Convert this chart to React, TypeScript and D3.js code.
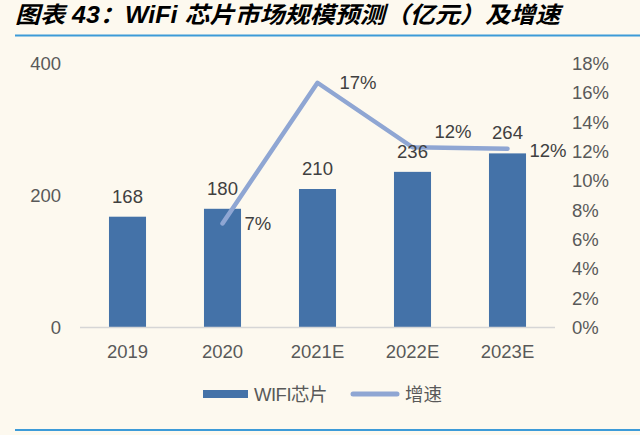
import React, { useEffect, useRef } from 'react';
import * as d3 from 'd3';

// chart data
const years = ['2019', '2020', '2021E', '2022E', '2023E'];
const marketSize = [168, 180, 210, 236, 264];
const growthYears = ['2020', '2021E', '2022E', '2023E'];
const growthRate = [0.071, 0.167, 0.123, 0.122];
const leftTicks = [0, 200, 400];
const rightTicks = [0, 0.02, 0.04, 0.06, 0.08, 0.1, 0.12, 0.14, 0.16, 0.18];

const W = 640;
const H = 435;
const plot = { left: 80, right: 555, top: 63.7, bottom: 327.5 };

const BAR = '#4472a8';
const LINE = '#8fa6d3';
const AXIS_TEXT = '#595959';
const LABEL_TEXT = '#404040';
const FONT = '"Liberation Sans", Arial, sans-serif';
const CJK = '"Noto Sans CJK SC", sans-serif';

const App: React.FC = () => {
    const svgRef = useRef<SVGSVGElement>(null);

    useEffect(() => {
        if (!svgRef.current) return;
        const svg = d3.select(svgRef.current);
        svg.selectAll('*').remove();

        svg.append('rect').attr('width', W).attr('height', H).attr('fill', '#fdf9ef');

        // title + rules
        svg.append('text')
            .attr('x', 15)
            .attr('y', 23)
            .attr('font-family', `"Liberation Sans", ${CJK}`)
            .attr('font-size', 23)
            .attr('font-weight', 'bold')
            .attr('font-style', 'italic')
            .attr('fill', '#000')
            .attr('textLength', 545)
            .attr('lengthAdjust', 'spacingAndGlyphs')
            .text('图表 43：WiFi 芯片市场规模预测（亿元）及增速');

        [35.5, 430].forEach(y => {
            svg.append('line')
                .attr('x1', 15).attr('x2', W)
                .attr('y1', y).attr('y2', y)
                .attr('stroke', '#3d9bd8')
                .attr('stroke-width', 2);
        });

        const x = d3.scaleBand<string>()
            .domain(years)
            .range([plot.left, plot.right])
            .paddingInner(0.61)
            .paddingOuter(0.305);
        const yL = d3.scaleLinear().domain([0, 400]).range([plot.bottom, plot.top]);
        const yR = d3.scaleLinear().domain([0, 0.18]).range([plot.bottom, plot.top]);
        const cx = (d: string) => (x(d) ?? 0) + x.bandwidth() / 2;

        // left axis
        const left = d3.axisLeft(yL).tickValues(leftTicks).tickSize(0).tickPadding(0);
        const gl = svg.append('g').attr('transform', `translate(61,0)`).call(left);
        gl.select('.domain').remove();
        gl.selectAll('text')
            .attr('font-family', FONT).attr('font-size', 18.5).attr('fill', AXIS_TEXT);

        // right axis
        const right = d3.axisRight(yR).tickValues(rightTicks).tickSize(0).tickPadding(0)
            .tickFormat(d3.format('.0%'));
        const gr = svg.append('g').attr('transform', `translate(572,0)`).call(right);
        gr.select('.domain').remove();
        gr.selectAll('text')
            .attr('font-family', FONT).attr('font-size', 18.5).attr('fill', AXIS_TEXT);

        // bottom axis
        const bottom = d3.axisBottom(x).tickSize(0).tickPadding(0);
        const gb = svg.append('g').attr('transform', `translate(0,${plot.bottom})`).call(bottom);
        gb.select('.domain').remove();
        gb.selectAll('text')
            .attr('dy', 0)
            .attr('y', 30.5)
            .attr('font-family', FONT).attr('font-size', 18.5).attr('fill', AXIS_TEXT);

        // bars
        svg.append('g').selectAll('rect')
            .data(marketSize)
            .join('rect')
            .attr('x', (_, i) => x(years[i]) ?? 0)
            .attr('y', d => yL(d))
            .attr('width', x.bandwidth())
            .attr('height', d => yL(0) - yL(d))
            .attr('fill', BAR);

        svg.append('line')
            .attr('x1', plot.left).attr('x2', plot.right)
            .attr('y1', plot.bottom).attr('y2', plot.bottom)
            .attr('stroke', '#d6d6d6').attr('stroke-width', 1.5);

        // growth line (drawn under the bar labels)
        const line = d3.line<number>()
            .x((_, i) => cx(growthYears[i]))
            .y(d => yR(d));
        svg.append('path')
            .datum(growthRate)
            .attr('d', line)
            .attr('fill', 'none')
            .attr('stroke', LINE)
            .attr('stroke-width', 4.5)
            .attr('stroke-linecap', 'round')
            .attr('stroke-linejoin', 'round');

        svg.append('g').selectAll('text')
            .data(marketSize)
            .join('text')
            .attr('x', (_, i) => cx(years[i]))
            .attr('y', d => yL(d) - 14)
            .attr('text-anchor', 'middle')
            .attr('font-family', FONT).attr('font-size', 18.5).attr('fill', LABEL_TEXT)
            .text(d => d);

        // the 2022E label sits a bit higher in the original
        const nudge = [0, 0, -16, 2];
        svg.append('g').selectAll('text')
            .data(growthRate)
            .join('text')
            .attr('x', (_, i) => cx(growthYears[i]) + 22)
            .attr('y', (d, i) => yR(d) + 6.5 + nudge[i])
            .attr('font-family', FONT).attr('font-size', 18.5).attr('fill', LABEL_TEXT)
            .text(d => d3.format('.0%')(d));

        // legend
        const lg = svg.append('g');
        lg.append('rect').attr('x', 203).attr('y', 390).attr('width', 45).attr('height', 8).attr('fill', BAR);
        lg.append('text').attr('x', 254).attr('y', 400.5)
            .attr('font-family', `"Liberation Sans", ${CJK}`).attr('font-size', 18.5).attr('fill', AXIS_TEXT)
            .attr('letter-spacing', -0.5)
            .text('WIFI芯片');
        lg.append('line').attr('x1', 353).attr('x2', 397).attr('y1', 394).attr('y2', 394)
            .attr('stroke', LINE).attr('stroke-width', 5).attr('stroke-linecap', 'round');
        lg.append('text').attr('x', 405).attr('y', 400.5)
            .attr('font-family', CJK).attr('font-size', 18.5).attr('fill', AXIS_TEXT)
            .text('增速');
    }, []);

    return (
        <svg
            ref={svgRef}
            width={W}
            height={H}
            style={{ position: 'fixed', left: 0, top: 0, display: 'block' }}
        />
    );
};

export default App;
